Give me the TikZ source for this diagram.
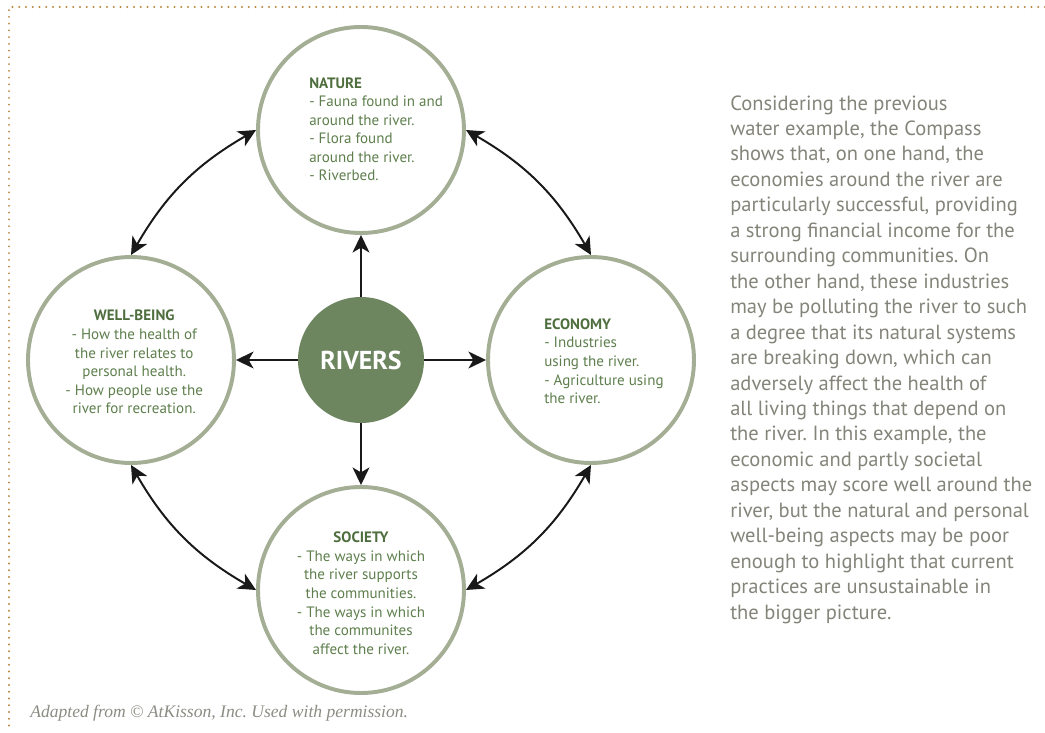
\documentclass[tikz,border=0pt]{standalone}
\usepackage{fontspec}
\setmainfont{PT Sans}
\newfontfamily\notefont{Liberation Serif}
\usetikzlibrary{arrows.meta,positioning}
\frenchspacing

\definecolor{ringgray}{HTML}{A3AE94}
\definecolor{rivergreen}{HTML}{6D8660}
\definecolor{headgreen}{HTML}{4F6E3E}
\definecolor{leafgreen}{HTML}{5E7F4D}
\definecolor{bodygray}{HTML}{84847A}
\definecolor{notegray}{HTML}{8C8C84}
\definecolor{dotbrown}{HTML}{B8893F}

\begin{document}
\begin{tikzpicture}

\def\bsep{5.75cm}
\def\csize{5.15cm}

\tikzstyle{cnode} = [circle,minimum size=\csize,inner sep=0pt,draw=ringgray,line width=2.8pt,fill=white];
\tikzstyle{lnode} = [inner sep=0pt,text=leafgreen,font=\fontsize{10.7}{13.2}\selectfont];
\tikzstyle{harrow} = [-{Stealth[length=12.5pt,width=12pt,inset=3.5pt]},line width=1.4pt,black!90];
\tikzstyle{darrow} = [{Stealth[length=12.5pt,width=12pt,inset=3.5pt]}-{Stealth[length=12.5pt,width=12pt,inset=3.5pt]},line width=1.4pt,black!90];

\useasboundingbox (-9.025,-9.3) rectangle (17.1,9.0);

\draw [dotbrown,line width=1.5pt,line cap=round,dash pattern=on 0pt off 4.8pt] (17.1,8.825) -- (-8.8,8.825) -- (-8.8,-9.3);

\node [circle,minimum size=3.15cm,inner sep=0pt,fill=rivergreen,text=white,font=\bfseries\fontsize{18.4}{20}\selectfont] (rivers) at (0,0) {RIVERS};

\node [cnode] (nature) at ([yshift=\bsep]rivers.center) {};
\node [cnode] (wellbeing) at ([xshift=-\bsep]rivers.center) {};
\node [cnode] (economy) at ([xshift=\bsep]rivers.center) {};
\node [cnode] (society) at ([yshift=-\bsep]rivers.center) {};

\node [lnode,anchor=west,align=left] (naturelabel) at ([xshift=-1.3cm,yshift=0.02cm]nature.center) {\textcolor{headgreen}{\textbf{NATURE}}\\- Fauna found in and\\around the river.\\- Flora found\\around the river.\\- Riverbed.};
\node [lnode,align=center] (wellbeinglabel) at ([xshift=0.08cm,yshift=-0.05cm]wellbeing.center) {\textcolor{headgreen}{\textbf{WELL-BEING}}\\- How the health of\\the river relates to\\personal health.\\- How people use the\\river for recreation.};
\node [lnode,anchor=west,align=left] (economylabel) at ([xshift=-1.175cm,yshift=-0.03cm]economy.center) {\textcolor{headgreen}{\textbf{ECONOMY}}\\- Industries\\using the river.\\- Agriculture using\\the river.};
\node [lnode,align=center] (societylabel) at ([yshift=-0.08cm]society.center) {\textcolor{headgreen}{\textbf{SOCIETY}}\\- The ways in which\\the river supports\\the communities.\\- The ways in which\\the communites\\affect the river.};

\draw [harrow] (rivers) -- (nature);
\draw [harrow] (rivers) -- (wellbeing);
\draw [harrow] (rivers) -- (economy);
\draw [harrow] (rivers) -- (society);

\draw [darrow] (economy.north) to [bend right=15] (nature.east);
\draw [darrow] (nature.west) to [bend right=15] (wellbeing.north);
\draw [darrow] (wellbeing.south) to [bend right=15] (society.west);
\draw [darrow] (society.east) to [bend right=15] (economy.south);

\node [anchor=north west,inner sep=0pt,align=left,text=bodygray,font=\fontsize{14.6}{18.1}\selectfont] (comment) at (9.225,6.62) {Considering the previous\\water example, the Compass\\shows that, on one hand, the\\economies around the river are\\particularly successful, providing\\a strong financial income for the\\surrounding communities. On\\the other hand, these industries\\may be polluting the river to such\\a degree that its natural systems\\are breaking down, which can\\adversely affect the health of\\all living things that depend on\\the river. In this example, the\\economic and partly societal\\aspects may score well around the\\river, but the natural and personal\\well-being aspects may be poor\\enough to highlight that current\\practices are unsustainable in\\the bigger picture.};

\node [anchor=base west,inner sep=0pt,text=notegray,font=\notefont\itshape\fontsize{12.5}{14}\selectfont] (caption) at (-8.275,-8.925) {Adapted from © AtKisson, Inc. Used with permission.};

\end{tikzpicture}
\end{document}
